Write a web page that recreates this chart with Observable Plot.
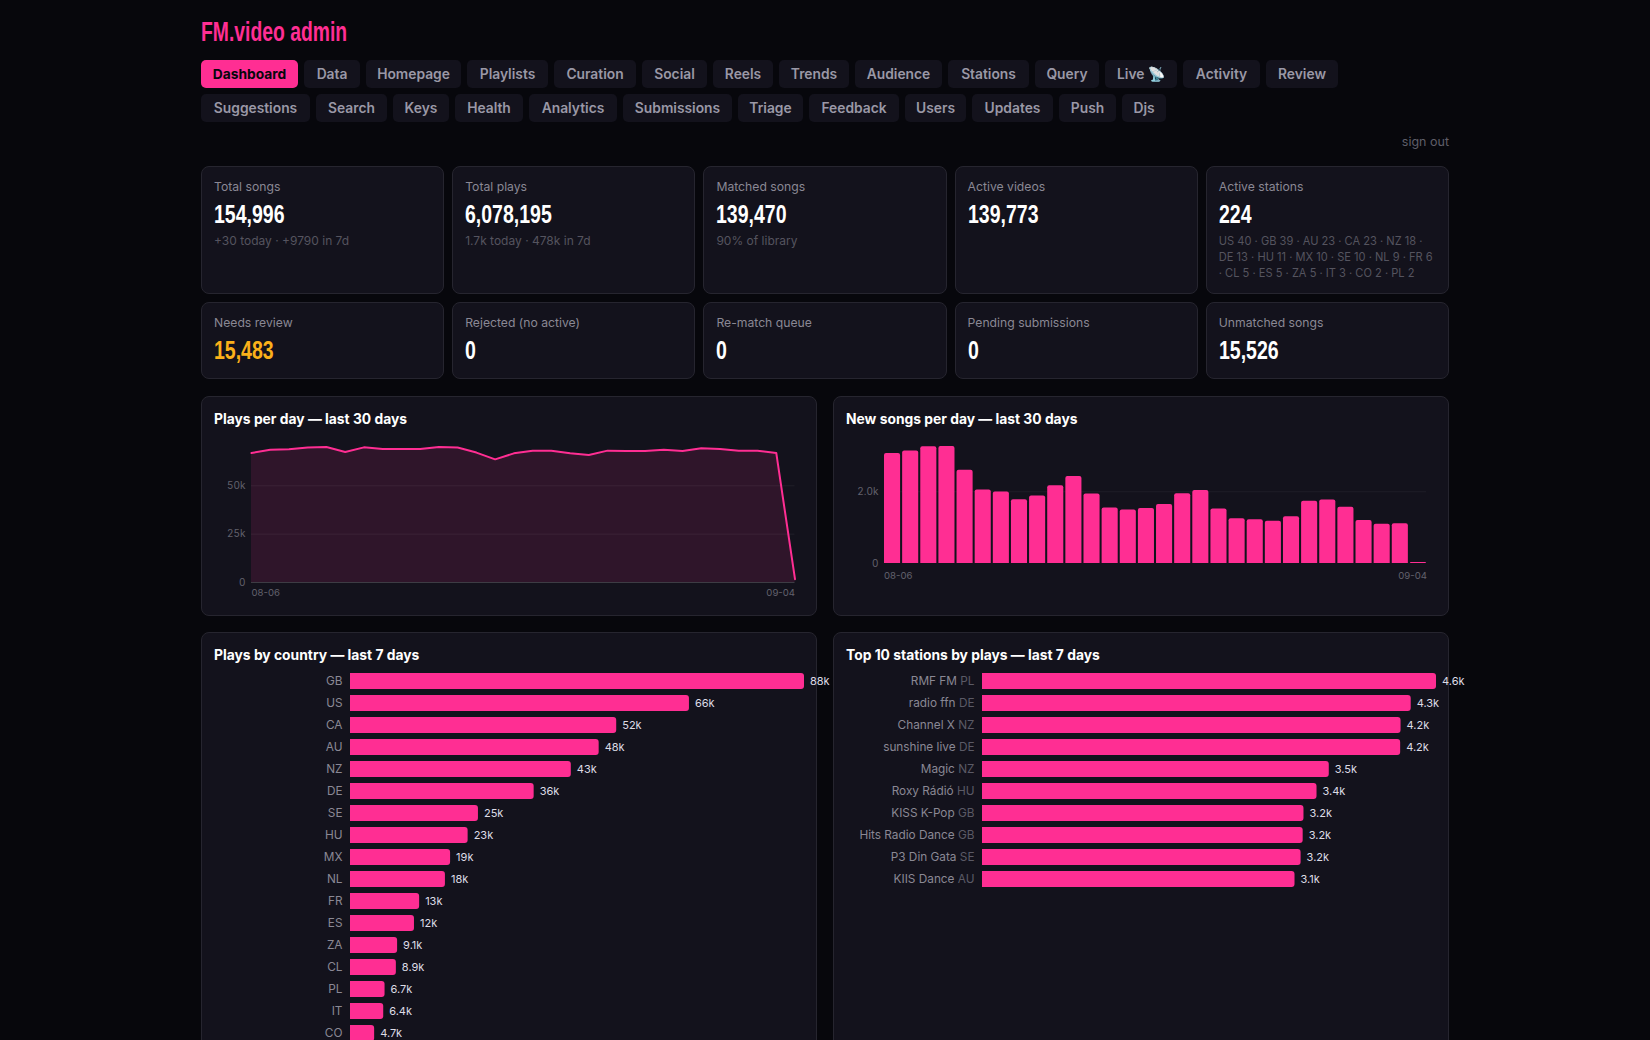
<!DOCTYPE html>
<html><head><meta charset="utf-8">
<script src="https://cdn.jsdelivr.net/npm/d3@7"></script>
<script src="https://cdn.jsdelivr.net/npm/@observablehq/plot@0.6"></script>
<style>
html,body{margin:0;padding:0;height:1040px;overflow:hidden;background:#07070c;font-family:Inter,sans-serif;color:#fff}
#app{position:relative;width:1248px;margin:0 auto;height:1040px}
h1{position:absolute;left:0;top:14px;margin:0;white-space:nowrap;font:700 27px/36px "Liberation Sans",sans-serif;color:#ff2e93;transform-origin:left center;transform:scaleX(.716)}
nav{position:absolute;left:0;top:60px;width:1248px;display:flex;flex-wrap:wrap;gap:6px}
nav a{height:28px;line-height:28px;border-radius:5px;background:#13121c;color:#9a98a6;font-size:13.8px;font-weight:600;text-align:center;box-sizing:border-box;white-space:nowrap}
nav a.on{background:#ff2e93;color:#07070c;font-weight:700}
.out{position:absolute;right:0;top:134px;font-size:12.5px;line-height:16px;color:#5f5e69}
.grid{position:absolute;left:0;width:1248px;display:grid;grid-template-columns:repeat(5,1fr);gap:8px}
.card{background:#13121c;border:1px solid #26252f;border-radius:8px;box-sizing:border-box;padding:12px}
.lab{font-size:12.2px;line-height:16px;color:#8a8894}
.val{font:700 26px/30px "Liberation Sans",sans-serif;margin-top:4px;color:#fff;transform-origin:left center;transform:scaleX(.75);white-space:nowrap}
.val.warn{color:#fbb01a}
.sub{font-size:12px;line-height:16px;color:#55545f;margin-top:4px}
.sub.long{font-size:11.1px}
.panel{position:absolute;width:616px;background:#13121c;border:1px solid #26252f;border-radius:8px;box-sizing:border-box;padding:12px}
.panel h3{margin:0;font-size:13.85px;line-height:20px;font-weight:700;color:#fff}
.panel svg{position:absolute;left:12px;overflow:visible}
</style></head><body><div id="app"></div>
<script>
const navRow = ["Dashboard","Data","Homepage","Playlists","Curation","Social","Reels","Trends","Audience","Stations","Query","Live 📡","Activity","Review","Suggestions","Search","Keys","Health","Analytics","Submissions","Triage","Feedback","Users","Updates","Push","Djs"];
const navWidths = [97,56,95,81,82,65,60,70,87,81,64,72,77,72,109,71,56,68,88,109,65,90,61,81,57,44];

const cardLabels = ["Total songs","Total plays","Matched songs","Active videos","Active stations","Needs review","Rejected (no active)","Re-match queue","Pending submissions","Unmatched songs"];
const cardValues = ["154,996","6,078,195","139,470","139,773","224","15,483","0","0","0","15,526"];
const cardSubs = ["+30 today · +9790 in 7d","1.7k today · 478k in 7d","90% of library","","US 40 · GB 39 · AU 23 · CA 23 · NZ 18 · DE 13 · HU 11 · MX 10 · SE 10 · NL 9 · FR 6 · CL 5 · ES 5 · ZA 5 · IT 3 · CO 2 · PL 2","","","","",""];

const days = ["08-06","08-07","08-08","08-09","08-10","08-11","08-12","08-13","08-14","08-15","08-16","08-17","08-18","08-19","08-20","08-21","08-22","08-23","08-24","08-25","08-26","08-27","08-28","08-29","08-30","08-31","09-01","09-02","09-03","09-04"];
const playsPerDay = [67000,68700,68900,69800,70100,67500,69900,69100,69100,69100,70100,69800,67200,63700,66800,68200,68200,66800,66000,68200,68000,68000,68600,68000,69400,69100,68200,68200,67000,1700];
const newSongs = [3069,3134,3254,3263,2599,2046,1991,1779,1880,2166,2424,1935,1548,1493,1530,1641,1945,2037,1521,1244,1217,1180,1300,1733,1770,1567,1198,1097,1106,28];

const countries = ["GB","US","CA","AU","NZ","DE","SE","HU","MX","NL","FR","ES","ZA","CL","PL","IT","CO"];
const countryPlays = [88000,65700,51600,48200,42800,35600,24800,22800,19400,18400,13400,12400,9130,8890,6700,6440,4680];

const stationNames = ["RMF FM","radio ffn","Channel X","sunshine live","Magic","Roxy Rádió","KISS K-Pop","Hits Radio Dance","P3 Din Gata","KIIS Dance"];
const stationCountries = ["PL","DE","NZ","DE","NZ","HU","GB","GB","SE","AU"];
const stationPlays = [4560,4306,4204,4200,3483,3360,3229,3221,3200,3139];

const PINK="#ff2e93", TICK="#62616c", FONT="Inter,sans-serif";
const app=document.getElementById("app");
const el=(tag,cls,parent,text)=>{const e=document.createElement(tag);if(cls)e.className=cls;if(text!=null)e.textContent=text;parent.appendChild(e);return e};

el("h1","",app,"FM.video admin");
const nav=el("nav","",app);
navRow.forEach((n,i)=>{const a=el("a",i==0?"on":"",nav,n);a.style.width=navWidths[i]+"px"});
el("div","out",app,"sign out");

[[166,128,0,5],[302,77,5,10]].forEach(([top,h,a,b])=>{
  const g=el("div","grid",app);g.style.top=top+"px";
  for(let i=a;i<b;i++){
    const c=el("div","card",g);c.style.height=h+"px";
    el("div","lab",c,cardLabels[i]);
    el("div","val"+(i==5?" warn":""),c,cardValues[i]);
    if(cardSubs[i])el("div","sub"+(i==4?" long":""),c,cardSubs[i]);
  }
});

function panel(left,top,height,title,svg,svgTop){
  const p=el("div","panel",app);
  p.style.left=left+"px";p.style.top=top+"px";p.style.height=height+"px";
  el("h3","",p,title);
  svg.style.top=svgTop+"px";
  p.appendChild(svg);
}
const common={width:590,style:{background:"transparent",fontFamily:FONT,overflow:"visible"}};
const lineData=days.map((d,i)=>({d,v:playsPerDay[i]}));
const barData=days.map((d,i)=>({d,v:newSongs[i]}));
const xLabels=(first,last,off,dy)=>[
  Plot.text([first],{x:d=>d,text:d=>d,frameAnchor:"bottom",lineAnchor:"top",textAnchor:"start",dy,dx:-off,fill:TICK,fontSize:9.6}),
  Plot.text([last],{x:d=>d,text:d=>d,frameAnchor:"bottom",lineAnchor:"top",textAnchor:"end",dy,dx:off,fill:TICK,fontSize:9.6})
];
const k=d=>d===0?"0":(d/1000)+"k";

const playsChart=Plot.plot({...common,height:167,marginTop:2,marginBottom:20,marginLeft:37,marginRight:9.5,
  x:{type:"point",domain:days,padding:0,round:false,axis:null},
  y:{domain:[0,75000],axis:null},
  marks:[
    Plot.areaY(lineData,{x:"d",y:"v",fill:PINK,fillOpacity:.12}),
    Plot.ruleY([25000,50000],{stroke:"#fff",strokeOpacity:.06}),
    Plot.ruleY([0],{stroke:"#fff",strokeOpacity:.18}),
    Plot.lineY(lineData,{x:"d",y:"v",stroke:PINK,strokeWidth:2}),
    Plot.axisY({ticks:[0,25000,50000],tickFormat:k,tickSize:0,tickPadding:6,fill:TICK,fontSize:10,label:null}),
    ...xLabels(days[0],days[29],0,7)
  ]});

const songsChart=Plot.plot({...common,height:150,marginTop:6,marginBottom:22,marginLeft:38,marginRight:10,
  x:{type:"band",domain:days,paddingInner:.113,paddingOuter:0,round:false,axis:null},
  y:{domain:[0,3400],axis:null},
  marks:[
    Plot.ruleY([2000],{stroke:"#fff",strokeOpacity:.05}),
    Plot.barY(barData,{x:"d",y:"v",fill:PINK,ry1:2}),
    Plot.axisY({ticks:[0,2000],tickFormat:d=>d===0?"0":d3.format(".1f")(d/1000)+"k",tickSize:0,tickPadding:6,fill:TICK,fontSize:10,label:null}),
    ...xLabels(days[0],days[29],8.5,9)
  ]});

const hbar=(labels,values,height)=>{
  const data=labels.map((l,i)=>({l,v:values[i]}));
  return Plot.plot({...common,height,marginTop:0,marginBottom:0,marginLeft:136,marginRight:0,
    x:{domain:[0,d3.max(values)],axis:null},
    y:{domain:labels,padding:6/22,round:false,axis:null},
    marks:[
      Plot.barX(data,{x:"v",y:"l",fill:PINK,rx2:3}),
      Plot.axisY({domain:labels,tickSize:0,tickPadding:8,fill:"#8a8894",fontSize:11.8,label:null}),
      Plot.text(data,{x:"v",y:"l",text:d=>d3.format(".2s")(d.v),textAnchor:"start",dx:5.5,fill:"#dedce6",fontSize:11})
    ]});
};
const countryChart=hbar(countries,countryPlays,380);
const stationLabels=stationNames.map((n,i)=>n+" "+stationCountries[i]);
const stationChart=hbar(stationLabels,stationPlays,226);
// dim the trailing country code inside each station label
d3.select(stationChart).selectAll("text").each(function(){
  const t=this.textContent;
  const i=stationLabels.indexOf(t);
  if(i<0)return;
  this.textContent=stationNames[i]+" ";
  d3.select(this).append("tspan").attr("fill","#5b5a66").text(stationCountries[i]);
});

panel(0,396,219.5,"Plays per day — last 30 days",playsChart,38);
panel(632,396,219.5,"New songs per day — last 30 days",songsChart,38);
panel(0,632,600,"Plays by country — last 7 days",countryChart,34);
panel(632,632,600,"Top 10 stations by plays — last 7 days",stationChart,34);
</script></body></html>
